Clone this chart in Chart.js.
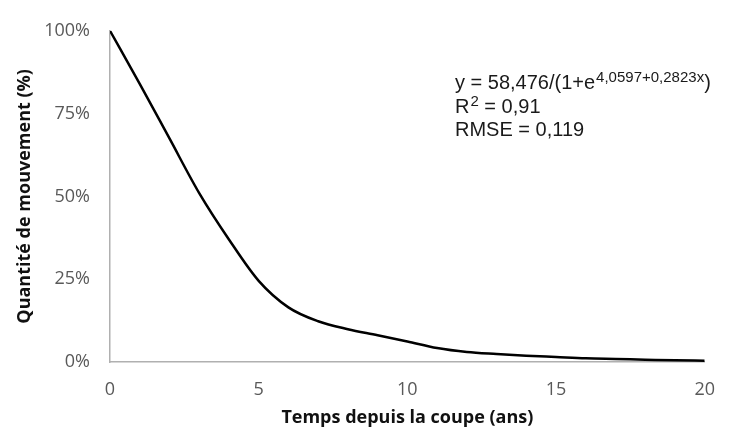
<!DOCTYPE html>
<html>
<head>
<meta charset="utf-8">
<script src="https://cdn.jsdelivr.net/npm/chart.js@4/dist/chart.umd.min.js"></script>
<style>
  html, body { margin: 0; padding: 0; background: #fff; }
  #wrap { width: 732px; height: 433px; }
</style>
</head>
<body>
<div id="wrap"><canvas id="chart"></canvas></div>
<script>
// values
const years = [0, 1, 2, 3, 4, 5, 6, 7, 8, 9, 10, 11, 12, 13, 14, 15, 16, 17, 18, 19, 20];
const quantity = [100, 84, 67.5, 51, 37, 24.5, 16.5, 12.3, 9.9, 8.1, 6.2, 4.2, 3.0, 2.4, 1.9, 1.5, 1.1, 0.9, 0.7, 0.5, 0.4];
const xTicks = [0, 5, 10, 15, 20];
const yTicks = [0, 25, 50, 75, 100];
const equationLines = [
    { main: 'y = 58,476/(1+e', sup: '4,0597+0,2823x', tail: ')' },
    { main: 'R', sup: '2', tail: ' = 0,91' },
    { main: 'RMSE = 0,119', sup: '', tail: '' },
];

const tickColor = '#595959';
const axisColor = '#b0b0b0';

const equationPlugin = {
    id: 'equationText',
    afterDraw: (chart) => {
        const ctx = chart.ctx;
        ctx.save();
        ctx.fillStyle = '#1a1a1a';
        ctx.textBaseline = 'alphabetic';
        ctx.textAlign = 'left';
        let y = 89;
        equationLines.forEach(line => {
            let x = 455;
            ctx.font = '20px "Liberation Sans", Arial, sans-serif';
            ctx.fillText(line.main, x, y);
            x += ctx.measureText(line.main).width + 1;
            if (line.sup) {
                ctx.font = '15px "Liberation Sans", Arial, sans-serif';
                ctx.fillText(line.sup, x, y - 7);
                x += ctx.measureText(line.sup).width;
            }
            if (line.tail) {
                ctx.font = '20px "Liberation Sans", Arial, sans-serif';
                ctx.fillText(line.tail, x, y);
            }
            y += 23.5;
        });
        ctx.restore();
    },
};

new Chart(document.getElementById('chart'), {
    type: 'line',
    data: {
        datasets: [{
            data: years.map((x, i) => ({ x: x, y: quantity[i] })),
            borderColor: '#000',
            borderWidth: 2.5,
            pointRadius: 0,
            fill: false,
            cubicInterpolationMode: 'monotone',
        }]
    },
    options: {
        responsive: true,
        maintainAspectRatio: false,
        animation: false,
        layout: { padding: { left: 0, right: 12, top: 25, bottom: 0 } },
        plugins: { legend: { display: false }, tooltip: { enabled: false } },
        scales: {
            x: {
                type: 'linear',
                min: 0,
                max: 20,
                afterBuildTicks: axis => { axis.ticks = xTicks.map(v => ({ value: v })); },
                afterFit: axis => { axis.height = 71; },
                grid: { display: false, drawTicks: false },
                border: { display: true, color: axisColor, width: 1.5 },
                ticks: { color: tickColor, padding: 17, font: { family: '"Open Sans"', size: 18 } },
                title: {
                    display: true,
                    text: 'Temps depuis la coupe (ans)',
                    color: '#111',
                    font: { family: '"Open Sans"', size: 18, weight: 'bold' },
                    padding: { top: 0, bottom: 4 },
                },
            },
            y: {
                min: 0,
                max: 100,
                afterBuildTicks: axis => { axis.ticks = yTicks.map(v => ({ value: v })); },
                afterFit: axis => { axis.width = 110; },
                grid: { display: false, drawTicks: false },
                border: { display: true, color: axisColor, width: 1.5 },
                ticks: {
                    color: tickColor,
                    padding: 20,
                    font: { family: '"Open Sans"', size: 18 },
                    callback: value => value + '%',
                },
                title: {
                    display: true,
                    text: 'Quantité de mouvement (%)',
                    color: '#111',
                    font: { family: '"Open Sans"', size: 18, weight: 'bold' },
                    padding: { top: 14, bottom: 0 },
                },
            },
        },
    },
    plugins: [equationPlugin],
});
</script>
</body>
</html>
